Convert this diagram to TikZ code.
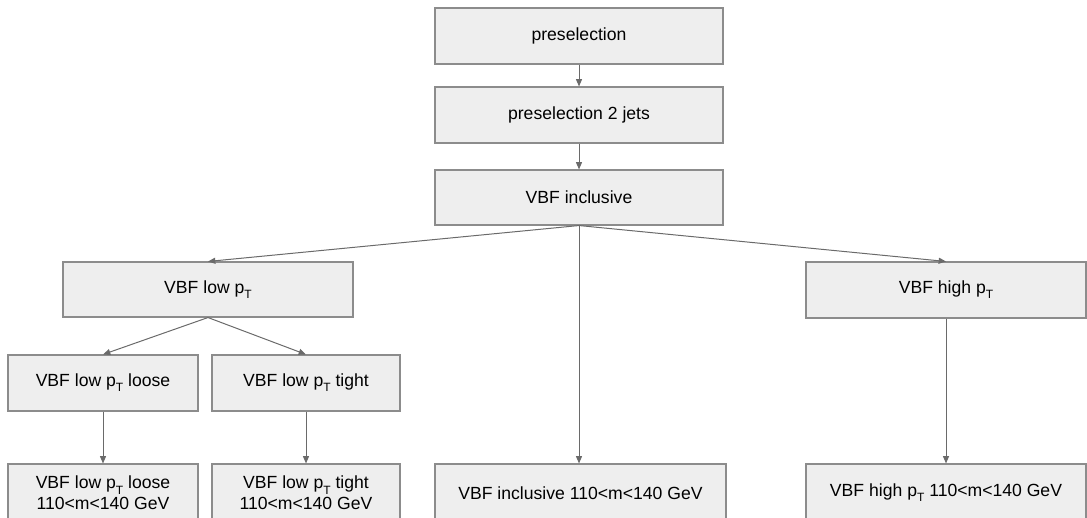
\documentclass[tikz,border=0pt]{standalone}
\usepackage{fontspec}
\setmainfont{Liberation Sans}
\usetikzlibrary{arrows.meta}
\definecolor{boxfill}{HTML}{EEEEEE}
\definecolor{boxline}{HTML}{8C8C8C}
\definecolor{arrline}{HTML}{6A6A6A}
\newcommand{\pT}{p\raisebox{-0.55ex}{\fontsize{9pt}{9pt}\selectfont T}}
\begin{document}
\begin{tikzpicture}[x=0.75pt,y=-0.75pt,
  box/.style={draw=boxline,fill=boxfill,line width=0.8pt,rectangle,inner sep=0pt,
    align=center,font=\fontsize{13.2pt}{15.5pt}\selectfont},
  arr/.style={draw=arrline,line width=0.75pt,-{Triangle[length=5.5pt,width=4.5pt]}}]
\useasboundingbox (0,0) rectangle (1087,517);
\clip (0,0) rectangle (1087,517);
\node[box,minimum width=288*0.75pt,minimum height=56*0.75pt] (pre) at (579,36) {preselection};
\node[box,minimum width=288*0.75pt,minimum height=56*0.75pt] (pre2) at (579,115) {preselection 2 jets};
\node[box,minimum width=288*0.75pt,minimum height=55*0.75pt] (incl) at (579,197.5) {VBF inclusive};
\node[box,minimum width=290*0.75pt,minimum height=55*0.75pt] (low) at (208,289.5) {VBF low \pT};
\node[box,minimum width=280*0.75pt,minimum height=56*0.75pt] (high) at (946,290) {VBF high \pT};
\node[box,minimum width=190*0.75pt,minimum height=56*0.75pt] (loose) at (103,383) {VBF low \pT{} loose};
\node[box,minimum width=188*0.75pt,minimum height=56*0.75pt] (tight) at (306,383) {VBF low \pT{} tight};
\node[box,minimum width=190*0.75pt,minimum height=58*0.75pt] (loose110) at (103,493) {VBF low \pT{} loose\\110<m<140 GeV};
\node[box,minimum width=188*0.75pt,minimum height=58*0.75pt] (tight110) at (306,493) {VBF low \pT{} tight\\110<m<140 GeV};
\node[box,minimum width=291*0.75pt,minimum height=58*0.75pt] (incl110) at (580.5,493) {VBF inclusive 110<m<140 GeV};
\node[box,minimum width=280*0.75pt,minimum height=58*0.75pt] (high110) at (946,493) {VBF high \pT{} 110<m<140 GeV};
\draw[arr] (pre.south) -- (pre2.north);
\draw[arr] (pre2.south) -- (incl.north);
\draw[arr] (incl.south) -- (low.north);
\draw[arr] (incl.south) -- (high.north);
\draw[arr] (incl.south) -- (incl110.north -| incl.south);
\draw[arr] (low.south) -- (loose.north);
\draw[arr] (low.south) -- (tight.north);
\draw[arr] (loose.south) -- (loose110.north);
\draw[arr] (tight.south) -- (tight110.north);
\draw[arr] (high.south) -- (high110.north);
\end{tikzpicture}
\end{document}
